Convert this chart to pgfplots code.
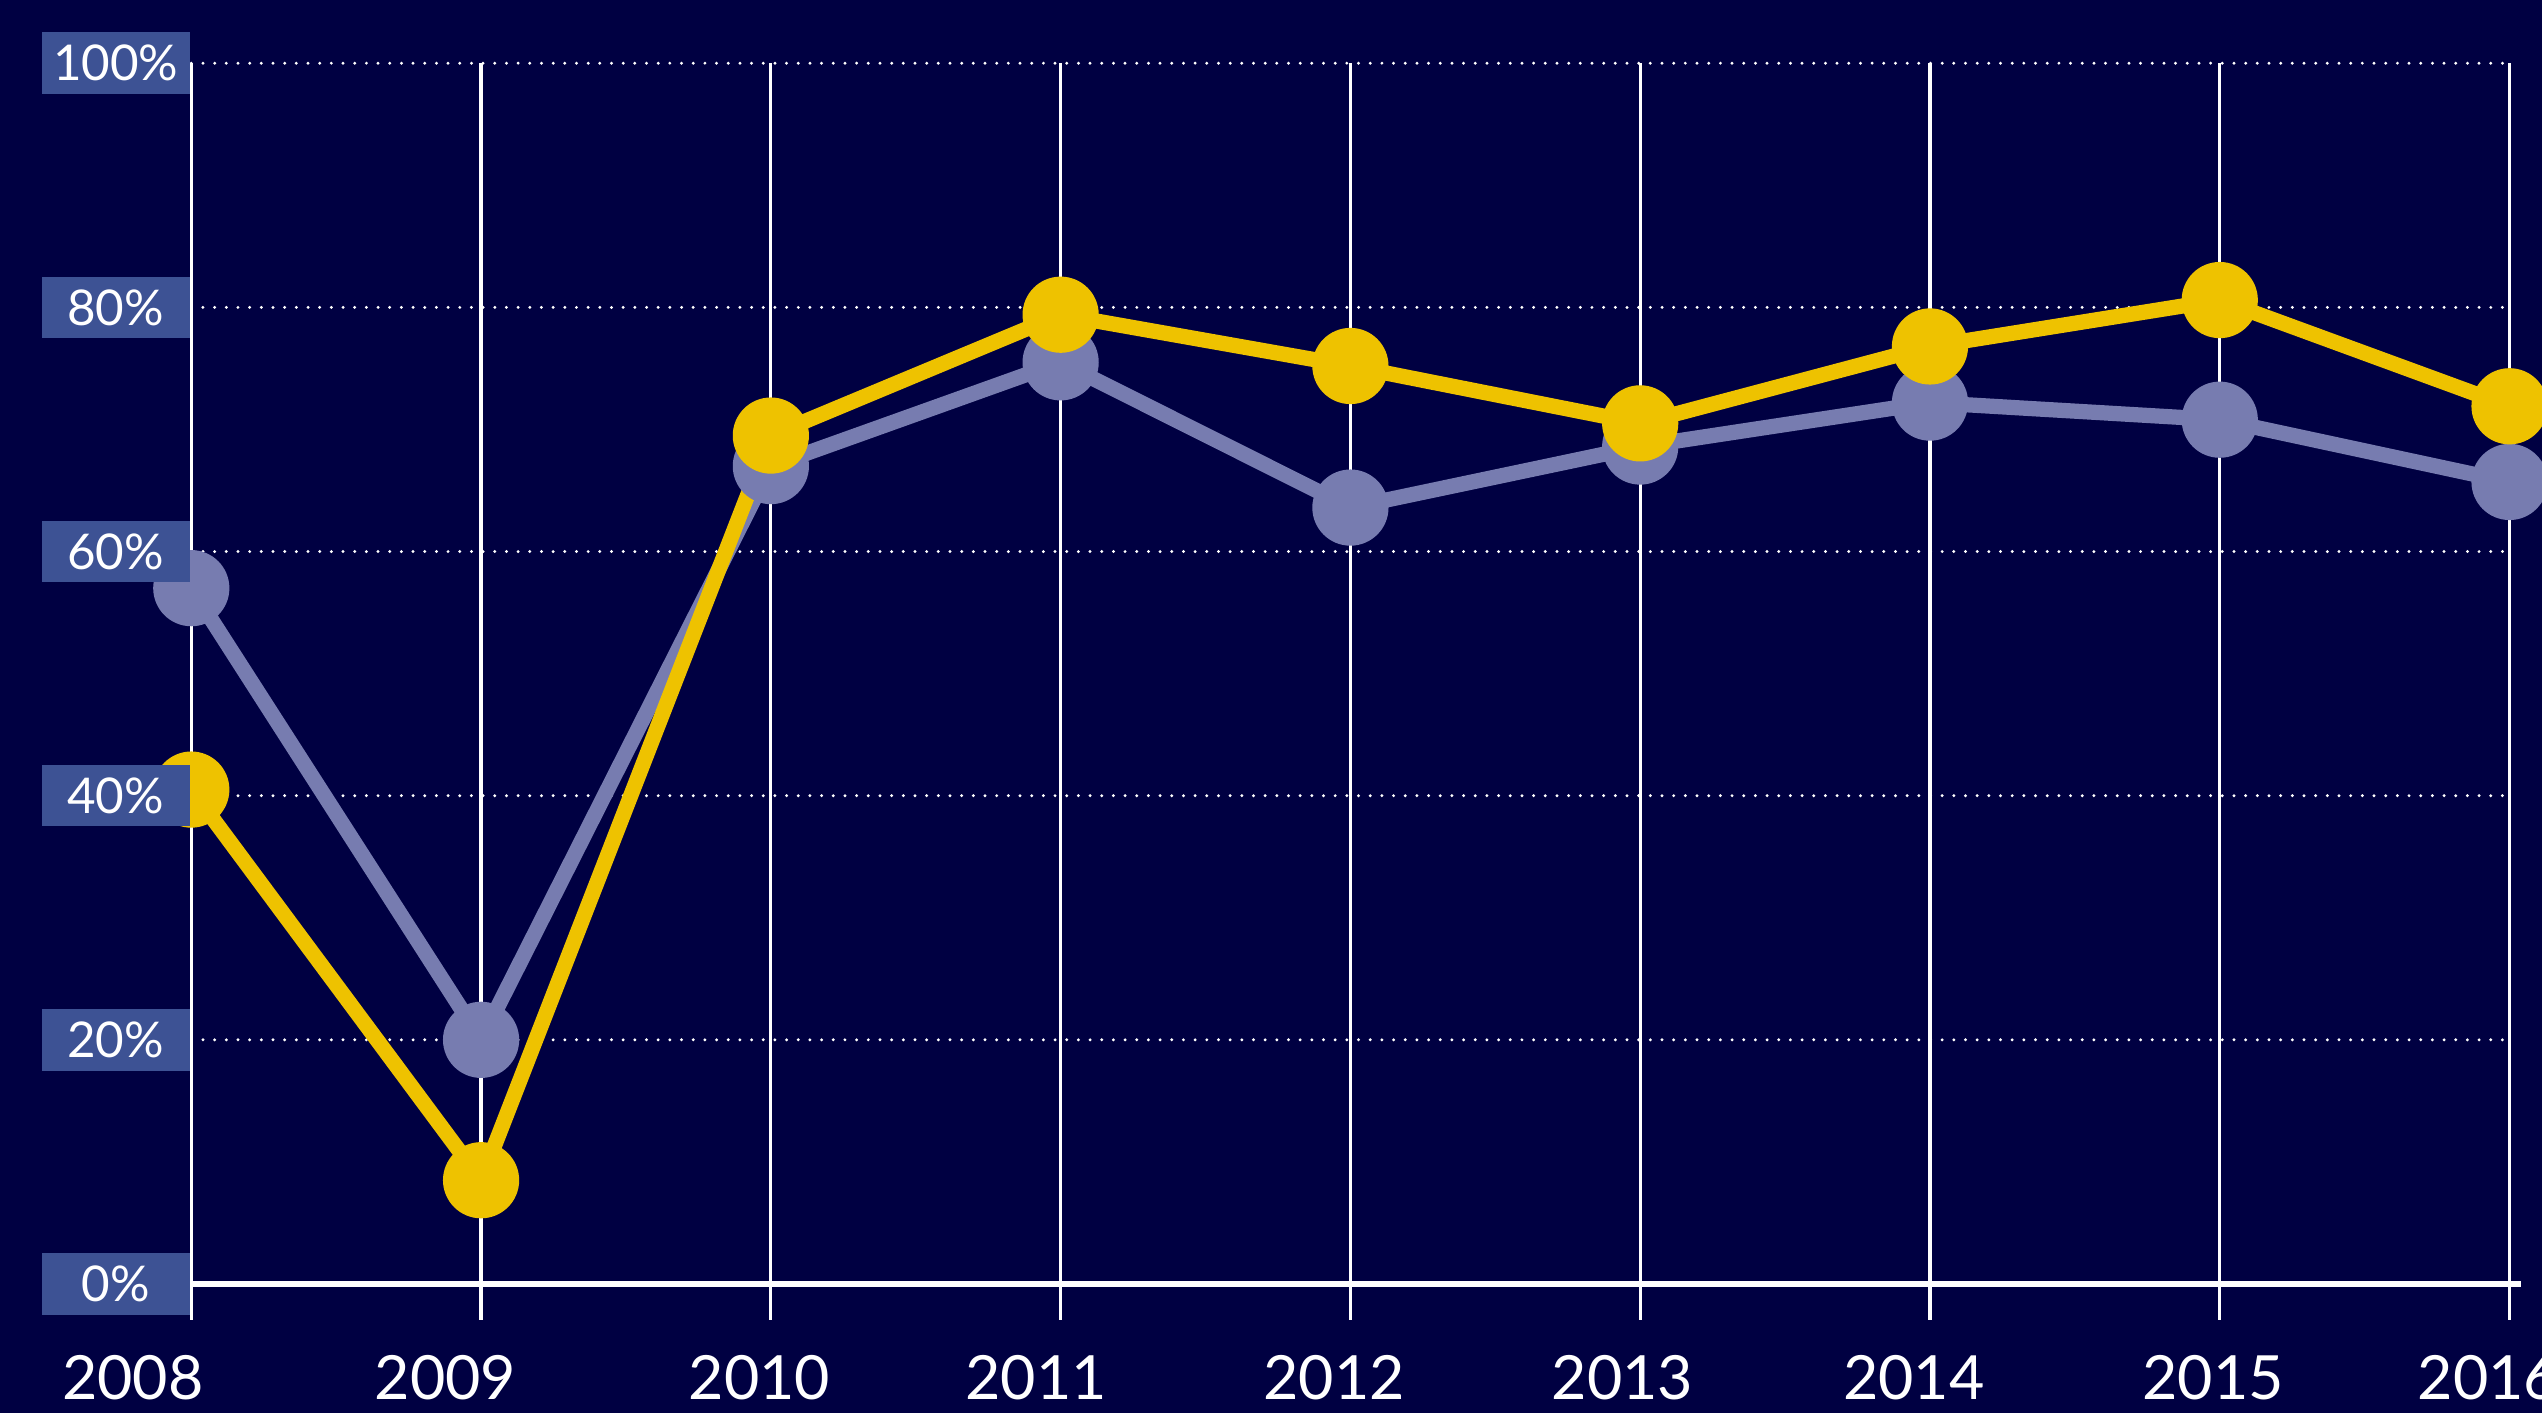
\documentclass[border=0pt]{standalone}
\usepackage{fontspec}
\setmainfont{Lato}
\usepackage{pgfplots}
\pgfplotsset{compat=1.18}
\definecolor{bg}{HTML}{000042}
\definecolor{yel}{HTML}{EEC200}
\definecolor{lav}{HTML}{777CB0}
\definecolor{lblue}{HTML}{3D5294}
\pgfplotsset{
 layers/mylayers/.define layer set={
   axis background,axis grid,axis ticks,axis lines,pre main,main,axis tick labels,axis descriptions,axis foreground
 }{
   grid style={/pgfplots/on layer=axis grid},
   tick style={/pgfplots/on layer=axis ticks},
   axis line style={/pgfplots/on layer=axis lines},
   label style={/pgfplots/on layer=axis descriptions},
   legend style={/pgfplots/on layer=axis descriptions},
   title style={/pgfplots/on layer=axis descriptions},
   colorbar style={/pgfplots/on layer=axis descriptions},
   ticklabel style={/pgfplots/on layer=axis tick labels},
   axis background@ style={/pgfplots/on layer=axis background},
   3d box foreground style={/pgfplots/on layer=axis foreground},
 },
}
\begin{document}
\begin{tikzpicture}
\begin{axis}[
 set layers=mylayers,
 at={(0pt,0pt)}, anchor=south west,
 scale only axis, width=357.5pt, height=188.25pt,
 xmin=2008, xmax=2016, ymin=0, ymax=100,
 clip=false,
 axis x line*=bottom, axis y line*=left,
 x axis line style={white, line width=1pt, shorten >=-1.75pt},
 y axis line style={draw=none},
 xtick={2008,2009,2010,2011,2012,2013,2014,2015,2016},
 xticklabels={{\hspace*{-18pt}2008},{\hspace*{-11pt}2009},{\hspace*{-3.5pt}2010},{\hspace*{-7.5pt}2011},{\hspace*{-5pt}2012},{\hspace*{-5.5pt}2013},{\hspace*{-5pt}2014},{\hspace*{-2pt}2015},{\hspace*{-6.5pt}2016}},
 ytick={0,20,40,60,80,100},
 yticklabels={0\%,20\%,40\%,60\%,80\%,100\%},
 xtick align=outside,
 major tick length=5.5pt,
 xtick style={white, line width=0.5pt},
 ytick style={draw=none},
 xmajorgrids, ymajorgrids,
 major x grid style={white, line width=0.5pt},
 major y grid style={white, line width=0.5pt, line cap=round, dash pattern=on 0pt off 1.8pt},
 xticklabel style={font=\fontsize{9.4}{10}\selectfont, text=white, anchor=north, yshift=-1.9pt},
 yticklabel style={font=\fontsize{7.6}{8}\selectfont, text=white, fill=lblue, minimum width=22.9pt, minimum height=9.5pt, inner sep=0pt, anchor=east, align=center},
]
\begin{pgfonlayer}{axis background}
\fill[bg] (rel axis cs:-0.12,-0.15) rectangle (rel axis cs:1.05,1.10);
\end{pgfonlayer}
\addplot[lav, line width=2.35pt, mark=*, mark size=4.7pt, mark options={solid, fill=lav, draw=none}] coordinates {
 (2008,57) (2009,20) (2010,67) (2011,75.5) (2012,63.6) (2013,68.6) (2014,72.2) (2015,70.8) (2016,65.7)
};
\addplot[yel, line width=2.35pt, mark=*, mark size=4.7pt, mark options={solid, fill=yel, draw=none}] coordinates {
 (2008,40.5) (2009,8.5) (2010,69.5) (2011,79.4) (2012,75.2) (2013,70.5) (2014,76.8) (2015,80.6) (2016,71.9)
};
\end{axis}
\pgfresetboundingbox
\path[use as bounding box] (-29.5pt,-19.75pt) rectangle (362.5pt,198pt);
\end{tikzpicture}
\end{document}
